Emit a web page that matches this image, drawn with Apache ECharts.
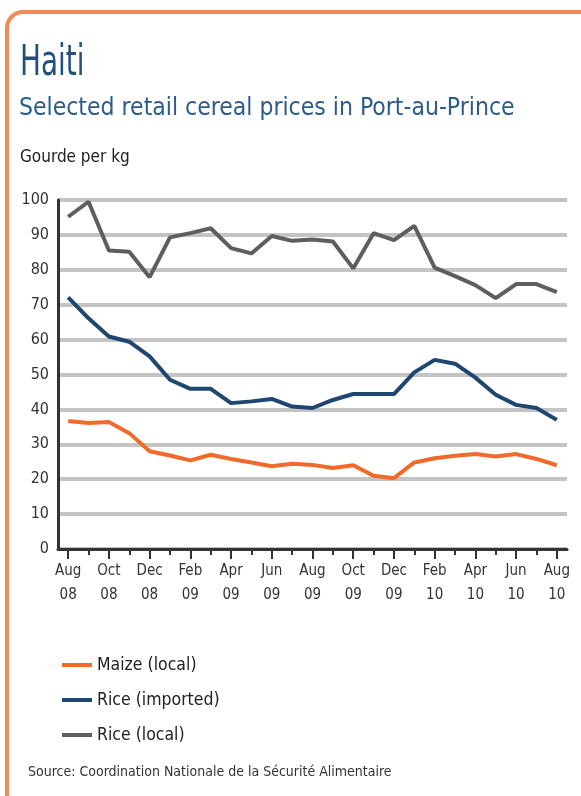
<!DOCTYPE html>
<html>
<head>
<meta charset="utf-8">
<script src="https://cdn.jsdelivr.net/npm/echarts@6/dist/echarts.min.js"></script>
<style>
html,body{margin:0;padding:0;background:#fff;}
#chart{width:581px;height:796px;}
</style>
</head>
<body>
<div id="chart"></div>
<script>
const months = ['Aug\n08','Sep','Oct\n08','Nov','Dec\n08','Jan','Feb\n09','Mar','Apr\n09','May','Jun\n09','Jul','Aug\n09','Sep','Oct\n09','Nov','Dec\n09','Jan','Feb\n10','Mar','Apr\n10','May','Jun\n10','Jul','Aug\n10'];
const maizeLocal = [36.7,36.1,36.4,33.2,28.0,26.8,25.4,27.0,25.8,24.8,23.7,24.4,24.1,23.2,24.0,21.0,20.3,24.8,26.0,26.7,27.2,26.5,27.2,25.8,24.0];
const riceImported = [72.1,66.1,60.9,59.4,55.2,48.5,45.9,45.9,41.8,42.3,43.0,40.8,40.4,42.7,44.4,44.4,44.4,50.6,54.2,53.1,49.1,44.2,41.3,40.4,37.0];
const riceLocal = [95.2,99.5,85.5,85.2,77.9,89.3,90.5,91.9,86.2,84.7,89.7,88.3,88.7,88.1,80.4,90.5,88.5,92.6,80.6,78.2,75.6,71.9,75.9,75.9,73.6];
const yTicks = [0,10,20,30,40,50,60,70,80,90,100];

const FONT = '"DejaVu Sans Condensed","Liberation Sans Narrow","DejaVu Sans",sans-serif';
const chart = echarts.init(document.getElementById('chart'), null, {renderer:'canvas'});
chart.setOption({
  animation:false,
  backgroundColor:'#fff',
  textStyle:{fontFamily:FONT},
  graphic:[
    {type:'rect', shape:{x:7, y:12, width:590, height:800, r:16}, style:{fill:'none', stroke:'#F28A58', lineWidth:4}, z:0},
    {type:'text', x:20, y:42, scaleX:0.72, style:{text:'Haiti', fill:'#22507E', font:'43px '+FONT}},
    {type:'text', x:19, y:96, style:{text:'Selected retail cereal prices in Port-au-Prince', fill:'#2C5D8A', font:'24.5px '+FONT}},
    {type:'text', x:20, y:149, style:{text:'Gourde per kg', fill:'#222', font:'17px '+FONT}},
    {type:'text', x:28, y:765, style:{text:'Source: Coordination Nationale de la Sécurité Alimentaire', fill:'#333', font:'14px '+FONT}}
  ],
  grid:{left:58, right:14, top:200, bottom:247, containLabel:false},
  legend:{
    orient:'vertical', left:57, top:650,
    icon:'rect', itemWidth:30, itemHeight:4, itemGap:15,
    textStyle:{fontSize:17.5, color:'#222', fontFamily:FONT, lineHeight:20},
    data:['Maize (local)','Rice (imported)','Rice (local)']
  },
  xAxis:[{
    type:'category', data:months, boundaryGap:true,
    axisLine:{show:true, lineStyle:{color:'#333', width:3}},
    axisTick:{show:true, alignWithLabel:true, interval:1, length:10, lineStyle:{color:'#333', width:2}},
    axisLabel:{interval:1, color:'#333', fontSize:15, lineHeight:24, margin:10, fontFamily:FONT},
    splitLine:{show:false}
  },{
    type:'category', data:months, boundaryGap:true, position:'bottom',
    axisLine:{show:false},
    axisTick:{show:true, alignWithLabel:true, interval:0, length:6, lineStyle:{color:'#333', width:2}},
    axisLabel:{show:false}
  }],
  yAxis:{
    type:'value', min:0, max:100, interval:10,
    axisLine:{show:true, lineStyle:{color:'#333', width:3}},
    axisTick:{show:false},
    axisLabel:{color:'#333', fontSize:16, margin:9, fontFamily:FONT},
    splitLine:{show:true, lineStyle:{color:'#C4C4C4', width:4}}
  },
  series:[
    {name:'Maize (local)', type:'line', data:maizeLocal, symbol:'none', lineStyle:{color:'#F26A2A', width:4}, itemStyle:{color:'#F26A2A'}, z:3},
    {name:'Rice (imported)', type:'line', data:riceImported, symbol:'none', lineStyle:{color:'#1D4670', width:4}, itemStyle:{color:'#1D4670'}, z:3},
    {name:'Rice (local)', type:'line', data:riceLocal, symbol:'none', lineStyle:{color:'#5E5E5E', width:4}, itemStyle:{color:'#5E5E5E'}, z:3}
  ]
});
</script>
</body>
</html>
